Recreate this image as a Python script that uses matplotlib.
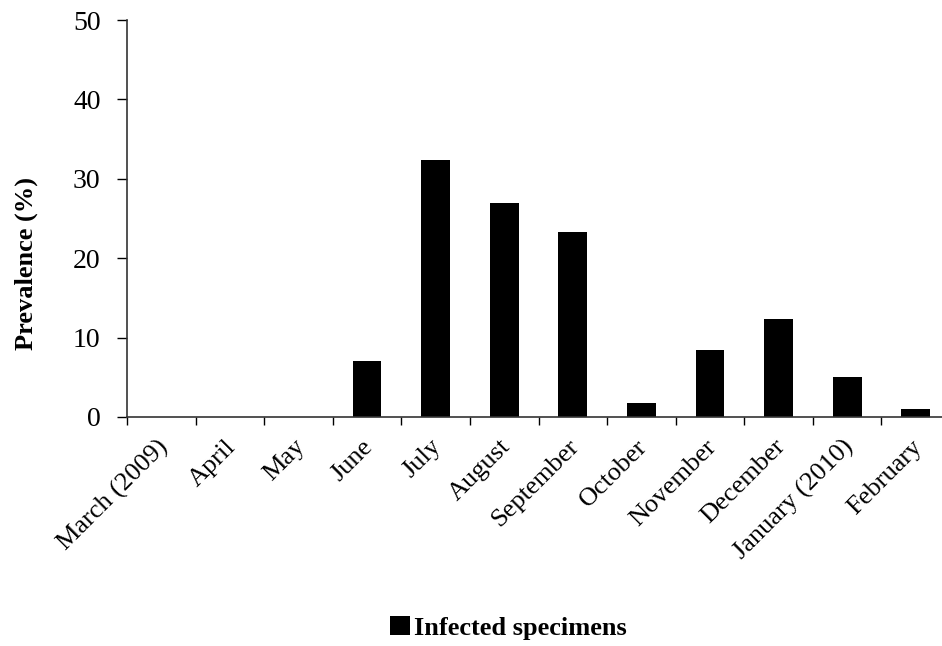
import matplotlib
matplotlib.use("Agg")
import matplotlib.pyplot as plt
import matplotlib.transforms as mtransforms
import numpy as np
from matplotlib.ticker import FixedLocator

months = ["March (2009)", "April", "May", "June", "July", "August", "September",
          "October", "November", "December", "January (2010)", "February"]
prevalence = [0, 0, 0, 7.0, 32.4, 26.9, 23.3, 1.8, 8.4, 12.3, 5.1, 1.0]
yticks = [0, 10, 20, 30, 40, 50]

plt.rcParams['font.family'] = ['Liberation Serif', 'DejaVu Serif']

W, H = 942, 646
fig = plt.figure(figsize=(W / 100, H / 100), dpi=100)
left, right, top, bottom = 127, 950, 20, 417
ax = fig.add_axes([left / W, 1 - bottom / H, (right - left) / W, (bottom - top) / H])

x = np.arange(len(months))
ax.bar(x + 0.5, prevalence, width=0.42, color='black', label='Infected specimens')
ax.set_xlim(0, len(months))
ax.set_ylim(0, 50)
ax.set_yticks(yticks)
ax.tick_params(axis='y', labelsize=20, length=7, width=1, direction='out', pad=12)

ax.xaxis.set_major_locator(FixedLocator(np.arange(0, len(months) + 1)))
ax.xaxis.set_minor_locator(FixedLocator(x + 0.5))
ax.set_xticklabels([''] * (len(months) + 1))
ax.set_xticklabels(months, minor=True, rotation=45, ha='right', rotation_mode='anchor')
ax.tick_params(axis='x', which='major', length=6, width=1, direction='out')
ax.tick_params(axis='x', which='minor', length=0, labelsize=19, pad=12)

offset = mtransforms.ScaledTranslation(-5 / 100, -2 / 100, fig.dpi_scale_trans)
for lbl in ax.xaxis.get_minorticklabels():
    lbl.set_transform(lbl.get_transform() + offset)

for s in ['top', 'right']:
    ax.spines[s].set_visible(False)
for s in ['left', 'bottom']:
    ax.spines[s].set_color('#333333')
    ax.spines[s].set_linewidth(1.2)

fig.text(26 / W, 1 - 263 / H, 'Prevalence (%)', rotation=90, fontsize=19,
         fontweight='bold', ha='center', va='center')

fig.legend(loc='center', bbox_to_anchor=(508 / W, 1 - 628 / H), frameon=False,
           prop={'size': 19, 'weight': 'bold'}, handlelength=0.75, handleheight=0.75,
           handletextpad=0.15)

fig.savefig('out.png', dpi=100)
